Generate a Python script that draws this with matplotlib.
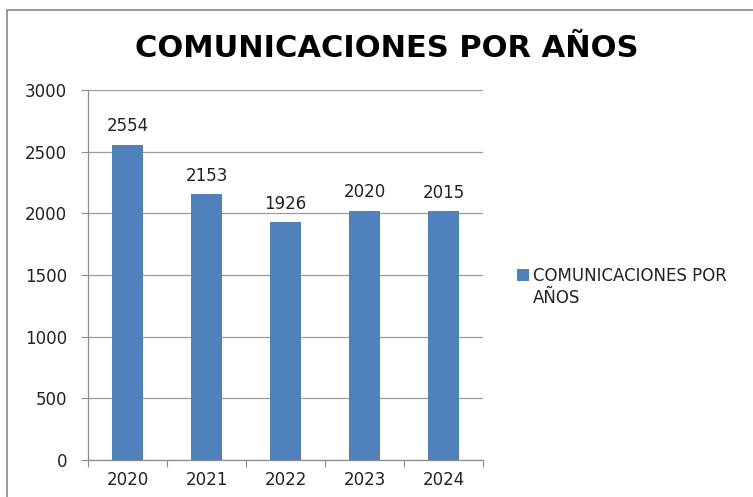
import matplotlib.pyplot as plt
from matplotlib.patches import Rectangle

# datos del grafico
years = ['2020', '2021', '2022', '2023', '2024']
communications = [2554, 2153, 1926, 2020, 2015]
y_ticks = [0, 500, 1000, 1500, 2000, 2500, 3000]

title = 'COMUNICACIONES POR AÑOS'
legend_line1 = 'COMUNICACIONES POR'
legend_line2 = 'AÑOS'

fig = plt.figure(figsize=(7.53, 4.97), dpi=100)
ax = fig.add_axes([0.1169, 0.0744, 0.5246, 0.7445])

x = list(range(len(years)))
ax.bar(x, communications, width=0.4, color='#4F81BD', label=legend_line1, zorder=3)

# etiquetas encima de las barras
for xi, v in zip(x, communications):
    ax.annotate(str(v), (xi, v), xytext=(0, 7), textcoords='offset points',
                ha='center', va='bottom', fontsize=12, color='#222222')

ax.set_xlim(-0.5, len(years) - 0.5)
ax.set_ylim(0, 3000)
ax.set_yticks(y_ticks)
ax.set_yticklabels([str(t) for t in y_ticks], fontsize=12, color='#222222')

# marcas del eje x en los limites de categoria
ax.set_xticks([i - 0.5 for i in range(len(years) + 1)])
ax.set_xticklabels([])
ax.set_xticks(x, minor=True)
ax.set_xticklabels(years, minor=True, fontsize=12, color='#222222')
ax.tick_params(axis='x', which='minor', length=0, pad=8)
ax.tick_params(axis='x', which='major', length=5, color='#8c8c8c')
ax.tick_params(axis='y', length=5, color='#8c8c8c', pad=10)

ax.grid(axis='y', color='#9a9a9a', linewidth=0.9, zorder=0)
for s in ['top', 'right']:
    ax.spines[s].set_visible(False)
for s in ['left', 'bottom']:
    ax.spines[s].set_color('#8c8c8c')
    ax.spines[s].set_linewidth(0.9)

fig.text(0.514, 0.903, title, ha='center', va='center', fontsize=22,
         fontweight='bold', color='black')

fig.legend(loc='center left', bbox_to_anchor=(0.675, 0.445), frameon=False,
           fontsize=12, handlelength=0.75, handleheight=0.75, handletextpad=0.25,
           borderpad=0, labelcolor='#222222')
fig.text(533 / 753, 1 - 298 / 497, legend_line2, ha='left', va='center',
         fontsize=12, color='#222222')

# marco del grafico
fig.patches.append(Rectangle((7 / 753, -0.1), 1.2, (497 - 10) / 497 + 0.1,
                             transform=fig.transFigure, fill=False,
                             edgecolor='#888888', linewidth=1.2))

fig.savefig('out.png', dpi=100)
